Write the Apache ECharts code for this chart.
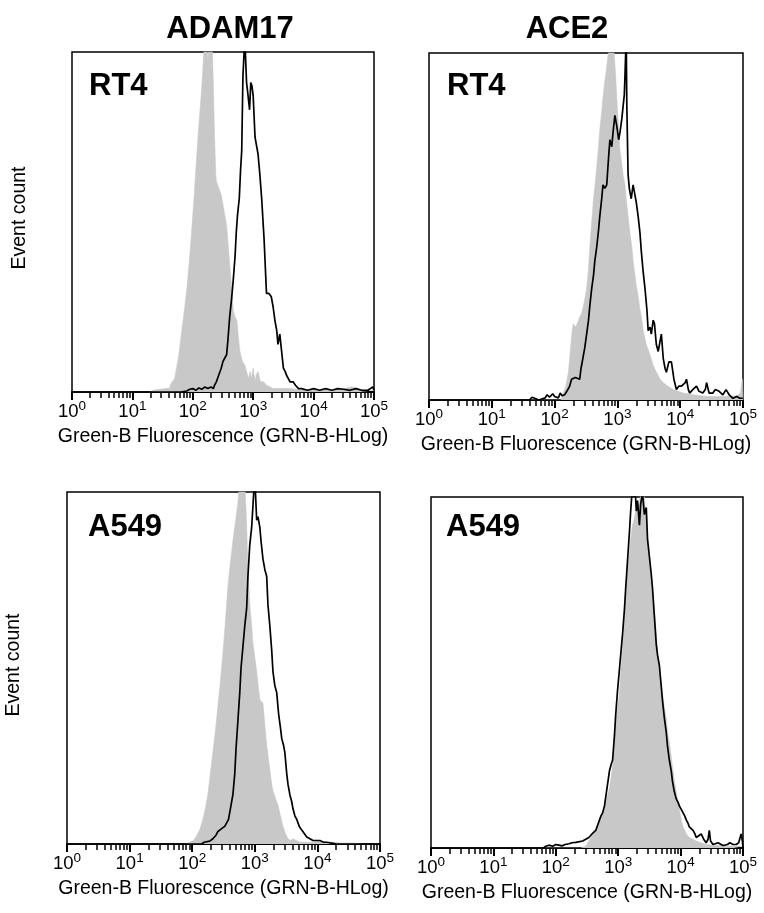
<!DOCTYPE html>
<html>
<head>
<meta charset="utf-8">
<script src="https://cdn.jsdelivr.net/npm/echarts@6/dist/echarts.min.js"></script>
<style>
html,body{margin:0;padding:0;background:#fff;}
#chart{width:764px;height:913px;}
</style>
</head>
<body>
<div id="chart"></div>
<script>
// ---------- DATA (x = log10 fluorescence, y = relative event count, peak ~100) ----------
const decadeTicks = [0, 1, 2, 3, 4, 5];
const minorMultipliers = [2, 3, 4, 5, 6, 7, 8, 9];
const columnTitles = ['ADAM17', 'ACE2'];
const cellLines = ['RT4', 'RT4', 'A549', 'A549'];

const rt4Adam17Control = [[0,0],[1.30,0],[1.34,0.5],[1.45,0.8],[1.55,1],[1.62,1.2],[1.63,2.2],[1.70,4],[1.73,7],[1.77,11],[1.81,17],[1.86,24],[1.90,30],[1.94,38],[1.98,47],[2.02,57],[2.06,68],[2.09,76],[2.12,83],[2.15,90],[2.17,96],[2.19,102],[2.23,103],[2.25,97],[2.27,104],[2.30,99],[2.32,103],[2.34,90],[2.36,75],[2.38,64],[2.39,62],[2.43,60],[2.47,58],[2.52,53],[2.56,49],[2.60,40],[2.64,31],[2.67,24],[2.70,22],[2.73,21],[2.76,15],[2.78,12],[2.82,9],[2.86,8],[2.89,6],[2.92,4],[2.95,6],[2.97,4],[3.0,7],[3.03,3],[3.05,5],[3.08,6],[3.12,3],[3.17,3],[3.22,2],[3.28,1.5],[3.33,1],[3.45,1],[3.61,1],[3.8,0.6],[4.0,0.6],[4.3,0.5],[4.5,0.8],[4.55,1.2],[4.62,1.5],[4.7,1.2],[4.78,0.5],[5,0.5]];
const rt4Adam17Stained = [[0,0],[1.8,0],[1.9,0.3],[1.95,0.8],[2.0,1],[2.05,0.5],[2.1,1.2],[2.15,0.8],[2.2,1.5],[2.25,1],[2.30,1.5],[2.34,1],[2.36,2],[2.39,3],[2.43,5],[2.47,7],[2.50,9],[2.53,10],[2.56,11],[2.58,15],[2.61,22],[2.64,27],[2.67,33],[2.70,40],[2.72,47],[2.74,52],[2.77,57],[2.79,65],[2.81,71],[2.82,82],[2.83,93],[2.85,100],[2.86,105],[2.87,100],[2.89,91],[2.91,88],[2.94,83],[2.96,91],[2.98,90],[3.0,87],[3.03,75],[3.05,73],[3.08,70],[3.11,64],[3.14,57],[3.18,45],[3.22,29],[3.26,29],[3.30,28],[3.33,25],[3.36,21],[3.39,18],[3.41,14],[3.44,17],[3.47,17],[3.50,7],[3.53,6],[3.55,5],[3.58,4],[3.61,3],[3.66,3],[3.70,2],[3.75,1],[3.8,1],[3.9,0.5],[4.0,1],[4.1,0.5],[4.2,1],[4.3,0.5],[4.4,1],[4.5,0.8],[4.6,0.5],[4.7,1],[4.8,0.5],[4.9,0.5],[4.98,1.5],[5,0.5]];

const rt4Ace2Control = [[0,0],[2.10,0],[2.14,2],[2.18,4],[2.22,8],[2.25,14],[2.28,20],[2.30,22],[2.33,21],[2.36,22],[2.40,24],[2.43,25],[2.47,28],[2.51,32],[2.54,38],[2.56,44],[2.59,51],[2.62,58],[2.65,63],[2.67,67],[2.70,73],[2.72,78],[2.75,83],[2.77,87],[2.80,92],[2.83,96],[2.86,101],[2.90,104],[2.94,102],[2.97,94],[2.99,87],[3.02,78],[3.04,72],[3.07,68],[3.09,65],[3.12,62],[3.14,58],[3.17,53],[3.20,48],[3.23,44],[3.25,40],[3.28,36],[3.30,33],[3.33,30],[3.36,26],[3.39,23],[3.41,20],[3.46,16],[3.52,13],[3.57,10],[3.62,8],[3.68,6],[3.73,5],[3.80,4],[3.89,3],[3.97,2.5],[4.05,2],[4.2,1.5],[4.42,1],[4.7,1],[4.9,1.2],[4.96,2],[4.99,6],[5,0]];
const rt4Ace2Stained = [[0,0],[1.60,0],[1.64,0.8],[1.67,0.3],[1.75,0],[1.85,0.6],[1.88,1.5],[1.92,0.8],[1.97,1.8],[2.0,1],[2.03,1.5],[2.06,0.6],[2.09,2],[2.12,1.2],[2.16,1.5],[2.19,1],[2.21,3],[2.24,4],[2.27,6],[2.30,6],[2.33,6.5],[2.36,6],[2.40,6],[2.42,9],[2.45,12],[2.48,15],[2.51,19],[2.54,23],[2.56,27],[2.59,32],[2.62,36],[2.64,40],[2.67,44],[2.70,49],[2.72,53],[2.75,58],[2.77,62],[2.80,61],[2.83,62],[2.86,70],[2.88,75],[2.91,73],[2.93,77],[2.96,82],[2.99,79],[3.02,75],[3.04,77],[3.07,81],[3.09,81],[3.11,88],[3.12,93],[3.14,105],[3.15,85],[3.17,65],[3.19,61],[3.22,58],[3.25,62],[3.28,62],[3.30,57],[3.33,53],[3.36,48],[3.38,43],[3.41,37],[3.44,32],[3.47,26],[3.49,20],[3.52,21],[3.54,19],[3.57,23],[3.59,22],[3.62,16],[3.65,14],[3.68,17],[3.70,19],[3.73,12],[3.76,9],[3.78,8],[3.82,11],[3.86,11],[3.90,6],[3.94,3],[3.98,4],[4.02,4],[4.05,4],[4.08,5],[4.10,6],[4.13,3],[4.15,2],[4.20,3],[4.26,4],[4.30,2.5],[4.36,2],[4.40,3],[4.42,5],[4.46,2],[4.52,2],[4.56,3],[4.62,2.5],[4.68,1.5],[4.73,3],[4.78,1.5],[4.84,0.5],[4.90,1],[4.95,0.5],[5,0.5]];

const a549Adam17Control = [[0,0],[1.90,0],[1.96,0.5],[2.02,1],[2.06,2],[2.12,4],[2.17,7],[2.21,10],[2.25,14],[2.29,20],[2.33,26],[2.37,32],[2.41,39],[2.45,46],[2.49,54],[2.53,63],[2.57,73],[2.61,80],[2.65,86],[2.68,90],[2.71,94],[2.73,97],[2.75,101],[2.78,104],[2.81,103],[2.84,102],[2.86,95],[2.87,90],[2.89,78],[2.92,68],[2.95,62],[2.97,57],[3.00,53],[3.03,49],[3.06,44],[3.08,41],[3.11,41],[3.13,40],[3.16,34],[3.19,28],[3.22,24],[3.24,21],[3.27,17],[3.29,15],[3.33,13],[3.37,11],[3.41,8],[3.45,5],[3.49,3],[3.53,1.5],[3.57,1],[3.61,1.5],[3.66,1],[3.72,0.5],[3.9,0.5],[4.04,0.8],[4.2,0.5],[4.4,0.3],[4.57,0.3],[4.7,0],[5,0]];
const a549Adam17Stained = [[0,0],[2.15,0],[2.19,0.5],[2.22,1],[2.28,0.8],[2.33,1.5],[2.38,2.5],[2.41,3.5],[2.44,4],[2.48,4.5],[2.52,5],[2.55,5],[2.58,7],[2.60,9],[2.62,11],[2.65,14],[2.68,20],[2.70,27],[2.73,35],[2.76,43],[2.78,50],[2.81,56],[2.84,62],[2.87,67],[2.89,76],[2.92,85],[2.95,90],[2.97,96],[3.00,105],[3.01,100],[3.03,92],[3.05,93],[3.08,90],[3.10,86],[3.13,81],[3.16,78],[3.19,76],[3.21,68],[3.24,62],[3.27,55],[3.29,49],[3.32,45],[3.35,43],[3.38,37],[3.41,33],[3.43,30],[3.46,28],[3.48,26],[3.51,20],[3.53,17],[3.56,14],[3.59,12],[3.61,10],[3.64,8],[3.67,7],[3.71,5],[3.75,4],[3.79,3],[3.83,2],[3.88,1.5],[3.93,1],[3.98,1],[4.04,1],[4.10,0.5],[4.15,0.5],[4.25,0.2],[4.3,0],[5,0]];

const a549Ace2Control = [[0,0],[2.40,0],[2.48,0.5],[2.53,2],[2.58,3.5],[2.64,5],[2.70,8],[2.75,10],[2.80,13],[2.86,17],[2.91,23],[2.94,29],[2.96,35],[2.99,40],[3.02,44],[3.04,50],[3.07,57],[3.10,65],[3.12,73],[3.15,79],[3.18,84],[3.20,88],[3.23,92],[3.26,94],[3.28,96],[3.31,97],[3.34,98],[3.37,102],[3.39,104],[3.42,100],[3.45,92],[3.47,87],[3.50,82],[3.53,77],[3.55,73],[3.58,67],[3.61,61],[3.63,56],[3.66,51],[3.69,47],[3.71,44],[3.74,40],[3.77,37],[3.79,33],[3.82,30],[3.85,26],[3.87,23],[3.90,19],[3.93,16],[3.96,13],[3.98,11],[4.01,8],[4.04,6],[4.07,5],[4.09,4],[4.14,3],[4.20,2.5],[4.25,2],[4.33,1.5],[4.41,1],[4.55,0.8],[4.68,0.7],[4.85,0.5],[5,0.5]];
const a549Ace2Stained = [[0,0],[1.80,0],[1.84,0.5],[1.89,0.8],[1.95,0.5],[2.0,1],[2.05,0.8],[2.10,0.6],[2.15,1],[2.21,1.2],[2.26,1.5],[2.32,1.6],[2.38,1.8],[2.43,2],[2.48,2.5],[2.53,3],[2.58,4],[2.64,5],[2.68,7],[2.72,9],[2.75,10],[2.78,12],[2.82,17],[2.86,22],[2.89,24],[2.91,25],[2.94,32],[2.96,38],[2.99,45],[3.02,51],[3.05,57],[3.07,61],[3.10,68],[3.12,74],[3.15,82],[3.18,90],[3.20,96],[3.22,101],[3.23,105],[3.25,100],[3.27,103],[3.29,96],[3.31,99],[3.34,92],[3.36,98],[3.39,101],[3.42,95],[3.45,97],[3.47,88],[3.50,83],[3.53,78],[3.55,74],[3.58,66],[3.61,58],[3.63,55],[3.66,52],[3.69,46],[3.71,42],[3.74,37],[3.77,33],[3.79,29],[3.82,25],[3.85,22],[3.87,19],[3.90,16],[3.93,14],[3.96,13],[3.98,12],[4.01,11],[4.04,10],[4.07,9],[4.09,8],[4.12,7],[4.14,6],[4.17,5.5],[4.20,5],[4.23,4],[4.25,3],[4.29,3.5],[4.33,4],[4.37,2.5],[4.41,1.5],[4.44,2.5],[4.46,5],[4.48,2],[4.52,1],[4.6,1.5],[4.68,0.7],[4.75,1],[4.79,1.5],[4.84,1],[4.89,1],[4.93,1.5],[4.97,4],[4.99,2],[5,0]];

// ---------- LAYOUT / STYLE ----------
const FONT = '"Liberation Sans", Arial, Helvetica, sans-serif';
const panels = [
  { grid: {left: 72,  top: 52,  width: 302, height: 340}, control: rt4Adam17Control, stained: rt4Adam17Stained, label: cellLines[0], labelPos: [89, 86] },
  { grid: {left: 429, top: 53,  width: 314, height: 347}, control: rt4Ace2Control,   stained: rt4Ace2Stained,   label: cellLines[1], labelPos: [447, 86] },
  { grid: {left: 67,  top: 492, width: 313, height: 352}, control: a549Adam17Control, stained: a549Adam17Stained, label: cellLines[2], labelPos: [88, 527] },
  { grid: {left: 431, top: 497, width: 312, height: 351}, control: a549Ace2Control,   stained: a549Ace2Stained,   label: cellLines[3], labelPos: [446, 527] }
];

const minorTicks = [];
for (let d = 0; d < 5; d++) {
  minorMultipliers.forEach(m => minorTicks.push(d + Math.log10(m)));
}

const grids = [], xAxes = [], yAxes = [], series = [];
panels.forEach((p, i) => {
  grids.push(Object.assign({ show: true, borderColor: '#000', borderWidth: 1.5, backgroundColor: '#fff', containLabel: false }, p.grid));
  // major axis (decades, labels, axis name)
  xAxes.push({
    type: 'value', gridIndex: i, min: 0, max: 5, position: 'bottom',
    name: 'Green-B Fluorescence (GRN-B-HLog)', nameLocation: 'middle', nameGap: 35,
    nameTextStyle: { fontFamily: FONT, fontSize: 19.5, color: '#000' },
    axisLine: { show: true, onZero: false, lineStyle: { color: '#000', width: 2.2 } },
    axisTick: { show: true, customValues: decadeTicks, length: 8, lineStyle: { color: '#000', width: 2 } },
    axisLabel: {
      show: true, customValues: decadeTicks, margin: 7,
      formatter: v => '{b|10}{s|' + v + '}',
      rich: {
        b: { fontFamily: FONT, fontSize: 18.5, color: '#000', verticalAlign: 'bottom' },
        s: { fontFamily: FONT, fontSize: 13.5, color: '#000', verticalAlign: 'bottom', padding: [0, 0, 8, 0] }
      }
    },
    splitLine: { show: false }
  });
  // minor ticks axis
  xAxes.push({
    type: 'value', gridIndex: i, min: 0, max: 5, position: 'bottom',
    axisLine: { show: false, onZero: false },
    axisTick: { show: true, customValues: minorTicks, length: 6, lineStyle: { color: '#000', width: 1.5 } },
    axisLabel: { show: false },
    splitLine: { show: false }
  });
  yAxes.push({
    type: 'value', gridIndex: i, min: 0, max: 100, show: false
  });
  series.push({
    type: 'line', name: p.label + ' control', xAxisIndex: i * 2, yAxisIndex: i,
    data: p.control, showSymbol: false, symbol: 'none', clip: true,
    lineStyle: { width: 0.6, color: '#c8c8c8' },
    areaStyle: { color: '#c8c8c8', opacity: 1 },
    z: 2, silent: true, animation: false
  });
  series.push({
    type: 'line', name: p.label + ' stained', xAxisIndex: i * 2, yAxisIndex: i,
    data: p.stained, showSymbol: false, symbol: 'none', clip: true,
    lineStyle: { width: 1.7, color: '#000' },
    z: 3, silent: true, animation: false
  });
});

const titleFont = 'bold 31px ' + FONT;
const graphics = [
  { type: 'text', x: 230, y: 29, style: { text: columnTitles[0], font: titleFont, fill: '#000', textAlign: 'center', textVerticalAlign: 'middle' } },
  { type: 'text', x: 567, y: 29, style: { text: columnTitles[1], font: titleFont, fill: '#000', textAlign: 'center', textVerticalAlign: 'middle' } },
  { type: 'text', x: 20, y: 218, rotation: Math.PI / 2, style: { text: 'Event count', font: '19.5px ' + FONT, fill: '#000', textAlign: 'center', textVerticalAlign: 'middle' } },
  { type: 'text', x: 14, y: 665, rotation: Math.PI / 2, style: { text: 'Event count', font: '19.5px ' + FONT, fill: '#000', textAlign: 'center', textVerticalAlign: 'middle' } }
];
panels.forEach(p => {
  graphics.push({ type: 'text', x: p.labelPos[0], y: p.labelPos[1], z: 10, style: { text: p.label, font: titleFont, fill: '#000', textAlign: 'left', textVerticalAlign: 'middle' } });
});

const chart = echarts.init(document.getElementById('chart'), null, { renderer: 'canvas' });
chart.setOption({
  backgroundColor: '#fff',
  animation: false,
  grid: grids,
  xAxis: xAxes,
  yAxis: yAxes,
  series: series,
  graphic: graphics
});
</script>
</body>
</html>
